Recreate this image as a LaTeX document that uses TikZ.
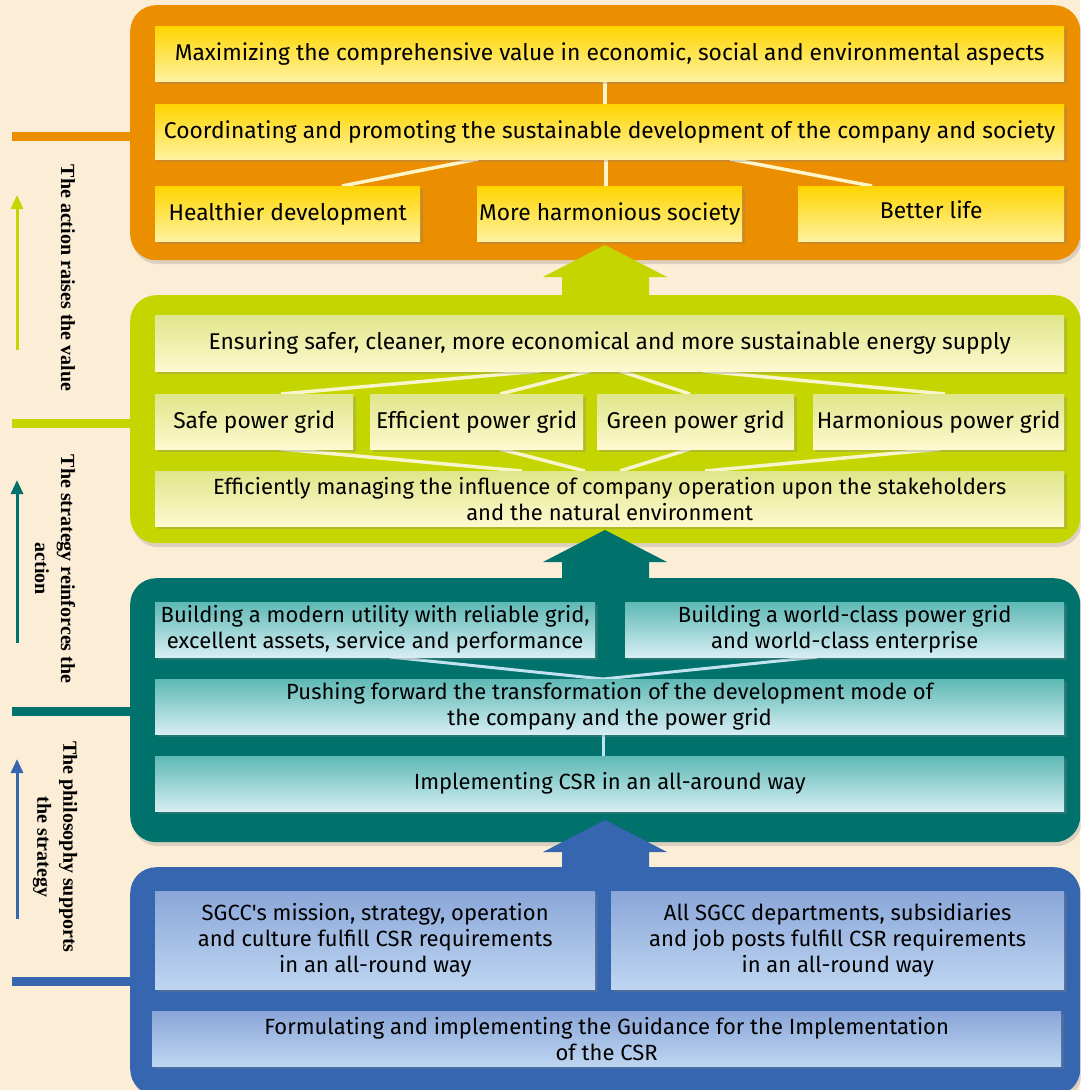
\documentclass[tikz,border=0pt]{standalone}
\usepackage{fontspec}
\setmainfont{Fira Sans}
\newfontfamily\lblfont{Liberation Serif}
\usetikzlibrary{shadows,arrows.meta}
\definecolor{bg}{HTML}{FCEDD7}
\definecolor{orangeP}{HTML}{EB8E00}
\definecolor{greenP}{HTML}{C5D500}
\definecolor{tealP}{HTML}{00726B}
\definecolor{blueP}{HTML}{3566AF}
\definecolor{ytop}{HTML}{FFD400}
\definecolor{ybot}{HTML}{FFF3A0}
\definecolor{gtop}{HTML}{E0E68A}
\definecolor{gbot}{HTML}{FEF9D0}
\definecolor{ttop}{HTML}{5EB9B5}
\definecolor{tbot}{HTML}{D6EEF4}
\definecolor{btop}{HTML}{8AA6D8}
\definecolor{bbot}{HTML}{BED6F1}
\definecolor{oline}{HTML}{FFF5C8}
\definecolor{gline}{HTML}{F7F5CC}
\definecolor{tline}{HTML}{C2E2F0}
\begin{document}
\begin{tikzpicture}[x=1pt,y=-1pt,
  panel/.style={rounded corners=26pt, inner sep=0pt, anchor=north west, minimum width=950pt,
    drop shadow={opacity=0.25, shadow xshift=2pt, shadow yshift=-4pt}},
  box/.style={inner sep=0pt, anchor=north west, align=center,
    font=\fontsize{22.8}{26}\selectfont, text=black,
    drop shadow={opacity=0.3, shadow xshift=3pt, shadow yshift=-3pt}},
  small/.style={font=\fontsize{22}{26}\selectfont},
  ybox/.style={box, top color=ytop, bottom color=ybot},
  gbox/.style={box, top color=gtop, bottom color=gbot},
  tbox/.style={box, small, top color=ttop, bottom color=tbot},
  bbox/.style={box, small, top color=btop, bottom color=bbot},
  stub/.style={line width=9pt},
  conn/.style={line width=3.5pt},
  side/.style={line width=3pt, -{Triangle[length=14pt,width=12pt]}},
  lbl/.style={rotate=-90, align=center, font=\lblfont\bfseries\fontsize{20}{26}\selectfont, text=black}
]
\fill[bg] (0,0) rectangle (1080,1090);
\useasboundingbox (0,0) rectangle (1080,1090);

% panels
\node[panel, fill=orangeP, minimum height=255pt] (op) at (130,5) {};
\node[panel, fill=greenP, minimum height=248pt] (gp) at (130,295) {};
\node[panel, fill=tealP, minimum height=264pt] (tp) at (130,578) {};
\node[panel, fill=blueP, minimum height=228pt] (bp) at (130,867) {};

% big arrows between panels
\fill[greenP] (605,245) -- (667,277) -- (649,277) -- (649,300) -- (562,300) -- (562,277) -- (543,277) -- cycle;
\fill[tealP] (605,530) -- (667,562) -- (649,562) -- (649,585) -- (562,585) -- (562,562) -- (543,562) -- cycle;
\fill[blueP] (605,820) -- (667,852) -- (649,852) -- (649,872) -- (562,872) -- (562,852) -- (543,852) -- cycle;

% stubs
\coordinate (os) at (12,136);
\coordinate (gs) at (12,423);
\coordinate (ts) at (12,711);
\coordinate (bs) at (12,981);
\draw[stub, orangeP] (os) -- (os -| op.west);
\draw[stub, greenP] (gs) -- (gs -| gp.west);
\draw[stub, tealP] (ts) -- (ts -| tp.west);
\draw[stub, blueP] (bs) -- (bs -| bp.west);

% side arrows
\coordinate (a1s) at (17,350); \coordinate (a1e) at (17,195);
\coordinate (a2s) at (17,643); \coordinate (a2e) at (17,480);
\coordinate (a3s) at (17,919); \coordinate (a3e) at (17,759);
\draw[side, greenP] (a1s) -- (a1e);
\draw[side, tealP] (a2s) -- (a2e);
\draw[side, blueP] (a3s) -- (a3e);

% side labels
\node[lbl] (l1) at (68,278) {The action raises the value};
\node[lbl] (l2) at (55,569) {The strategy reinforces the\\action};
\node[lbl] (l3) at (55,847) {The philosophy supports\\the strategy};

% orange panel content
\draw[conn, oline] (605,81) -- (605,104);
\draw[conn, oline] (478,159) -- (342,186);
\draw[conn, oline] (606,159) -- (606,186);
\draw[conn, oline] (730,159) -- (872,186);
\node[ybox, minimum width=909pt, minimum height=55pt] (m1) at (155,26) {Maximizing the comprehensive value in economic, social and environmental aspects};
\node[ybox, minimum width=909pt, minimum height=55pt] (m2) at (155,104) {Coordinating and promoting the sustainable development of the company and society};
\node[ybox, minimum width=265pt, minimum height=55pt] (h1) at (155,186) {Healthier development};
\node[ybox, minimum width=265pt, minimum height=55pt] (h2) at (477,186) {More harmonious society};
\node[ybox, minimum width=266pt, minimum height=55pt] (h3) at (798,186) {\strut Better life};

% green panel content
\draw[conn, gline] (540,371) -- (281,394);
\draw[conn, gline] (590,371) -- (500,394);
\draw[conn, gline] (620,371) -- (690,394);
\draw[conn, gline] (703,371) -- (945,394);
\draw[conn, gline] (281,449) -- (522,471);
\draw[conn, gline] (500,449) -- (585,471);
\draw[conn, gline] (690,449) -- (620,471);
\draw[conn, gline] (940,449) -- (705,471);
\node[gbox, minimum width=909pt, minimum height=56pt] (e1) at (155,315) {Ensuring safer, cleaner, more economical and more sustainable energy supply};
\node[gbox, minimum width=198pt, minimum height=55pt] (g1) at (155,394) {Safe power grid};
\node[gbox, minimum width=213pt, minimum height=55pt] (g2) at (370,394) {Efficient power grid};
\node[gbox, minimum width=197pt, minimum height=55pt] (g3) at (597,394) {Green power grid};
\node[gbox, minimum width=251pt, minimum height=55pt] (g4) at (813,394) {Harmonious power grid};
\node[gbox, small, minimum width=909pt, minimum height=55pt] (e2) at (155,471) {Efficiently managing the influence of company operation upon the stakeholders\\and the natural environment};

% teal panel content
\draw[conn, tline, line width=3pt] (390,657) -- (603,679);
\draw[conn, tline, line width=3pt] (817,657) -- (603,679);
\draw[conn, tline, line width=3pt] (603,734) -- (603,756);
\node[tbox, minimum width=440pt, minimum height=55pt] (t1) at (155,602) {Building a modern utility with reliable grid,\\excellent assets, service and performance};
\node[tbox, minimum width=439pt, minimum height=55pt] (t2) at (625,602) {Building a world-class power grid\\and world-class enterprise};
\node[tbox, minimum width=909pt, minimum height=55pt] (t3) at (155,679) {Pushing forward the transformation of the development mode of\\the company and the power grid};
\node[tbox, minimum width=909pt, minimum height=55pt] (t4) at (155,756) {Implementing CSR in an all-around way};

% blue panel content
\node[bbox, minimum width=440pt, minimum height=98pt] (b1) at (155,891) {SGCC\textquotesingle s mission, strategy, operation\\and culture fulfill CSR requirements\\in an all-round way};
\node[bbox, minimum width=453pt, minimum height=98pt] (b2) at (611,891) {All SGCC departments, subsidiaries\\and job posts fulfill CSR requirements\\in an all-round way};
\node[bbox, minimum width=909pt, minimum height=55pt] (b3) at (152,1011) {Formulating and implementing the Guidance for the Implementation\\of the CSR};
\end{tikzpicture}
\end{document}
